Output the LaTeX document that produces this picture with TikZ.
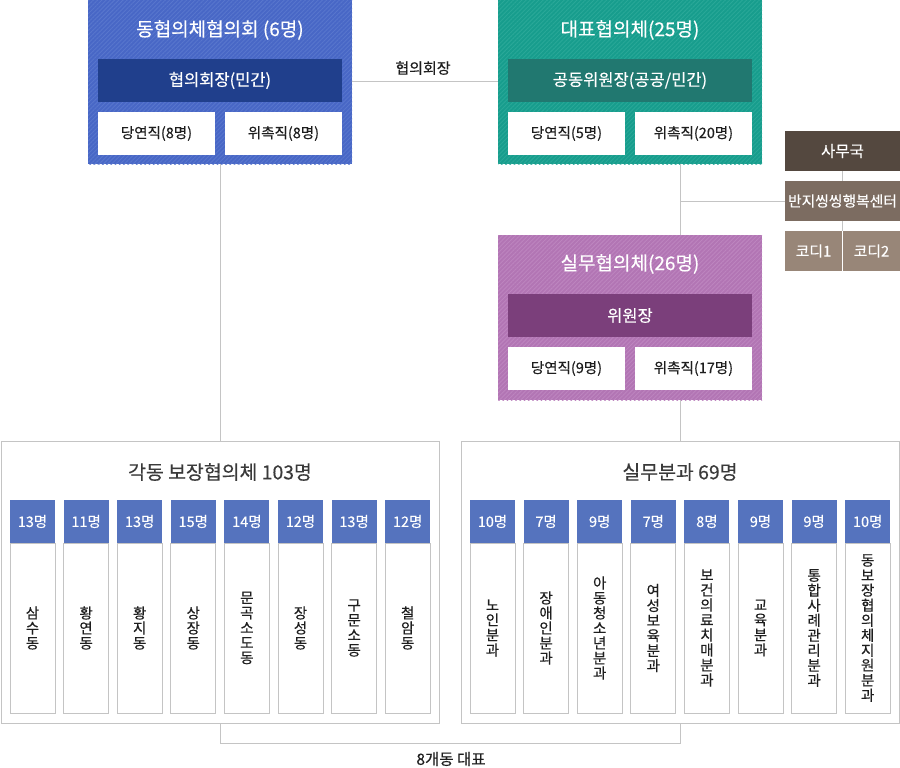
\documentclass[tikz,border=0pt]{standalone}
\usepackage{fontspec}
\setmainfont{Noto Sans CJK KR}[FakeBold=0.35]
\usetikzlibrary{patterns.meta,calc}
\definecolor{blueA}{HTML}{4867C6}
\definecolor{blueB}{HTML}{5876CD}
\definecolor{blueD}{HTML}{203F8C}
\definecolor{tealA}{HTML}{179D8D}
\definecolor{tealB}{HTML}{29A898}
\definecolor{tealD}{HTML}{217870}
\definecolor{purA}{HTML}{B275B4}
\definecolor{purB}{HTML}{BD85BF}
\definecolor{purD}{HTML}{7B3F7B}
\definecolor{hdr}{HTML}{5573BE}
\definecolor{brA}{HTML}{54483F}
\definecolor{brB}{HTML}{7C6C61}
\definecolor{brC}{HTML}{988678}
\definecolor{lgray}{HTML}{C4C4C4}
\definecolor{ttlgray}{HTML}{3A3A3A}
\definecolor{txt}{HTML}{1E1E1E}
\begin{document}
\begin{tikzpicture}[x=1pt,y=-1pt,
  box/.style={inner sep=0pt,outer sep=0pt,anchor=north west},
  panel/.style={box,postaction={pattern={Lines[angle=45,distance=3pt,line width=0.9pt]},pattern color=#1}},
  ttl/.style={text=white,font=\fontsize{19}{22}\selectfont},
  bar/.style={box,minimum width=244pt,minimum height=43pt,text=white,font=\fontsize{16.5}{19}\selectfont},
  wbox/.style={box,fill=white,minimum width=117pt,minimum height=43pt,text=txt,font=\fontsize{14.5}{17}\selectfont},
  conn/.style={draw=lgray,line width=1pt},
  side/.style={box,text=white,font=\fontsize{14.8}{17}\selectfont},
  bigpanel/.style={box,draw=lgray,line width=1pt,fill=white,minimum width=438pt,minimum height=282pt},
  bttl/.style={text=ttlgray,font=\fontsize{19.4}{22}\selectfont},
  colhead/.style={box,fill=hdr,minimum width=45pt,minimum height=43pt,text=white,font=\fontsize{14.5}{16}\selectfont},
  colbody/.style={box,draw=lgray,line width=1pt,fill=white,minimum width=45pt,minimum height=170pt,text=txt,font=\fontsize{14.5}{15}\selectfont,align=center}
]
\useasboundingbox (0,0) rectangle (900,768);
\fill[white] (0,0) rectangle (900,768);

% top-left panel
\node[panel=blueB,fill=blueA,minimum width=264pt,minimum height=164pt] (dong) at (88,0) {};
\node[ttl] (dongt) at (220,30) {동협의체협의회 (6명)};
\node[bar,fill=blueD] (dongbar) at (98,59) {협의회장(민간)};
\node[wbox] (dongw1) at (98,112) {당연직(8명)};
\node[wbox] (dongw2) at (225,112) {위촉직(8명)};

% top-right panel
\node[panel=tealB,fill=tealA,minimum width=264pt,minimum height=164pt] (dae) at (498,0) {};
\node[ttl] (daet) at (630,30) {대표협의체(25명)};
\node[bar,fill=tealD] (daebar) at (508,59) {공동위원장(공공/민간)};
\node[wbox] (daew1) at (508,112) {당연직(5명)};
\node[wbox] (daew2) at (635,112) {위촉직(20명)};

% middle panel
\node[panel=purB,fill=purA,minimum width=264pt,minimum height=165pt] (sil) at (498,235) {};
\node[ttl] (silt) at (630,264) {실무협의체(26명)};
\node[bar,fill=purD] (silbar) at (508,294) {위원장};
\node[wbox] (silw1) at (508,347) {당연직(9명)};
\node[wbox] (silw2) at (635,347) {위촉직(17명)};

% side boxes
\node[side,fill=brA,minimum width=115pt,minimum height=40pt,font=\fontsize{15.5}{17}\selectfont] (samu) at (785,131) {사무국};
\node[side,fill=brB,minimum width=115pt,minimum height=40pt] (banji) at (785,181) {반지씽씽행복센터};
\node[side,fill=brC,minimum width=57pt,minimum height=40pt] (k1) at (785,231) {코디1};
\node[side,fill=brC,minimum width=57pt,minimum height=40pt] (k2) at (843,231) {코디2};

% bottom panels
\node[bigpanel] (gak) at (1,441) {};
\node[bttl] (gakt) at (220,472) {각동 보장협의체 103명};
\node[bigpanel] (bun) at (461,441) {};
\node[bttl] (bunt) at (680,472) {실무분과 69명};

\foreach \i/\n/\t in {0/13명/{삼\\수\\동},1/11명/{황\\연\\동},2/13명/{황\\지\\동},3/15명/{상\\장\\동},4/14명/{문\\곡\\소\\도\\동},5/12명/{장\\성\\동},6/13명/{구\\문\\소\\동},7/12명/{철\\암\\동}}{
  \node[colhead] (lh\i) at (10+53.6*\i,500) {\n};
  \node[colbody] (lb\i) at (10+53.6*\i,543) {\t};
}
\foreach \i/\n/\t in {0/10명/{노\\인\\분\\과},1/7명/{장\\애\\인\\분\\과},2/9명/{아\\동\\청\\소\\년\\분\\과},3/7명/{여\\성\\보\\육\\분\\과},4/8명/{보\\건\\의\\료\\치\\매\\분\\과},5/9명/{교\\육\\분\\과},6/9명/{통\\합\\사\\례\\관\\리\\분\\과},7/10명/{동\\보\\장\\협\\의\\체\\지\\원\\분\\과}}{
  \node[colhead] (rh\i) at (470+53.6*\i,500) {\n};
  \node[colbody] (rb\i) at (470+53.6*\i,543) {\t};
}

% connectors
\draw[conn] (dong.east) -- (dae.west);
\node[text=txt,font=\fontsize{15}{17}\selectfont] (hlabel) at (423,68) {협의회장};
\draw[conn] (dong.south) -- (gak.north);
\draw[conn] (dae.south -| bun.north) -- (sil.north -| bun.north);
\draw[conn] (sil.south -| bun.north) -- (bun.north);
\draw[conn] (banji.west) -- (banji.west -| bun.north);
\draw[conn] (samu.south) -- (banji.north);
\draw[conn] (banji.south) -- (banji.south |- k1.north);
\coordinate (bl) at ($(gak.south)+(0,20)$);
\draw[conn] (gak.south) -- (bl) -| (bun.south);
\node[text=txt,font=\fontsize{15.5}{17}\selectfont] (rep) at (451,759) {8개동 대표};
\end{tikzpicture}
\end{document}
